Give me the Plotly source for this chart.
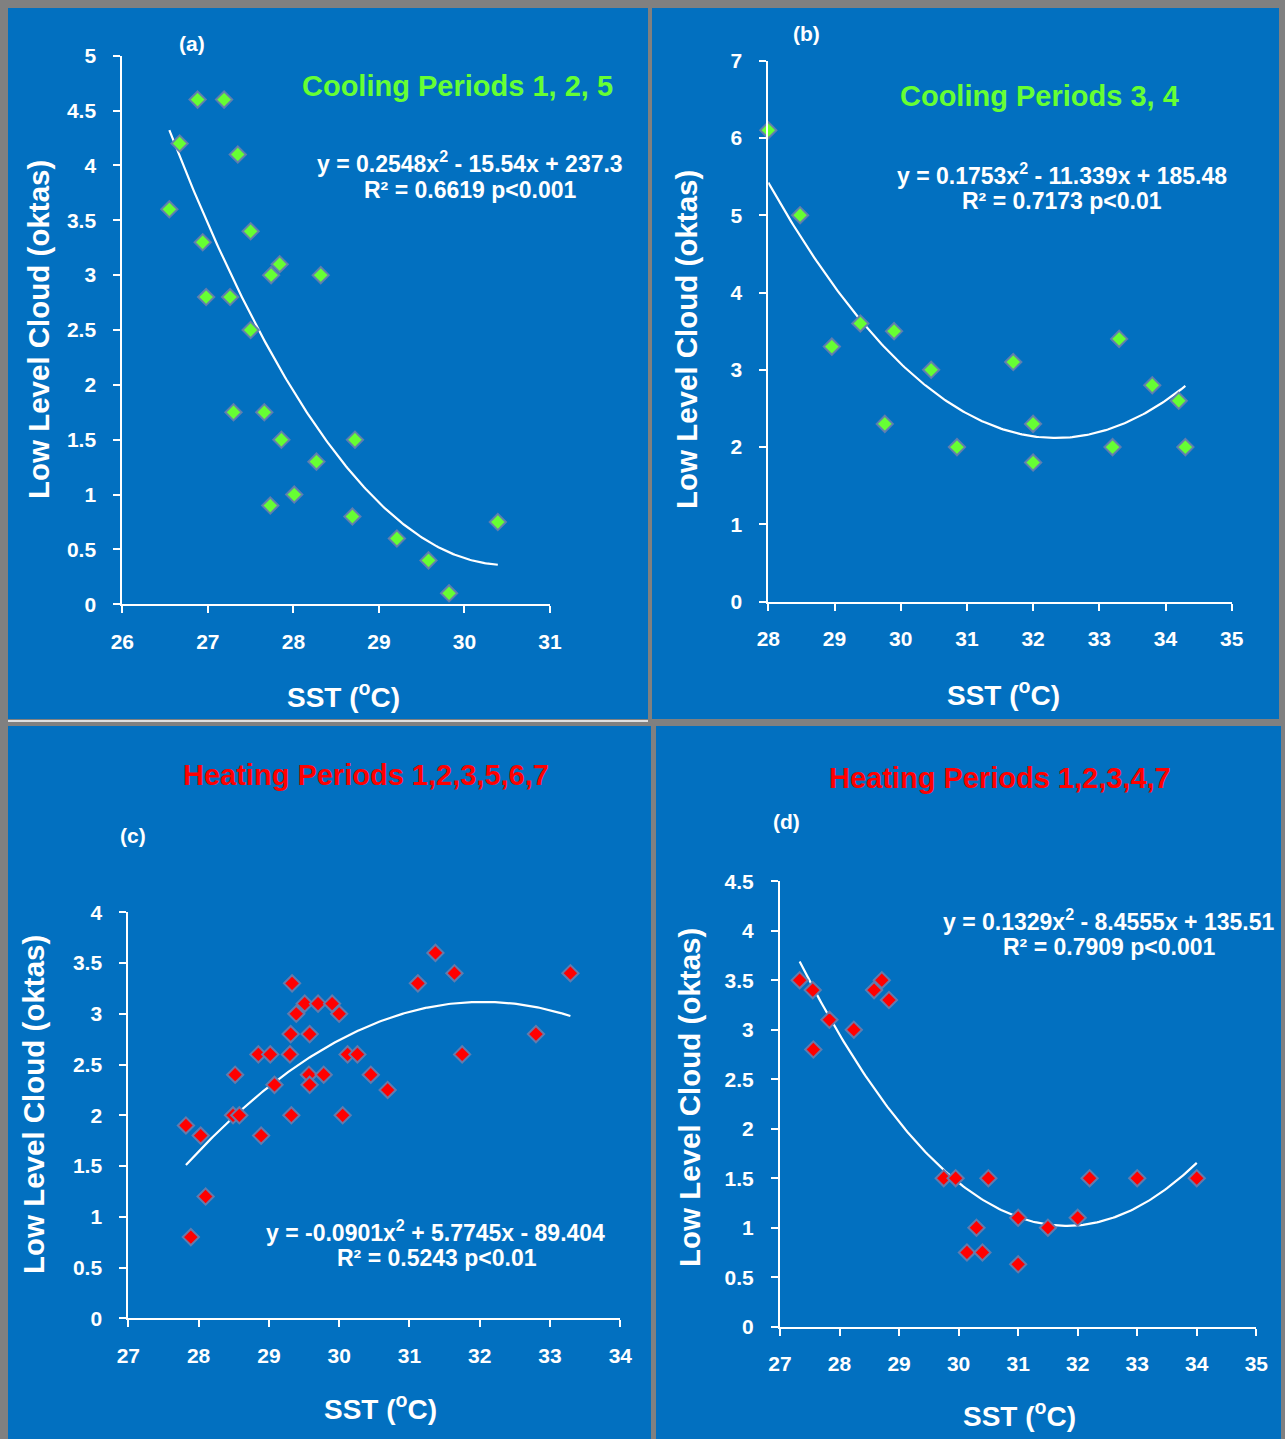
import numpy as np
import plotly.graph_objects as go

W, H = 1285, 1439

# ---------------- data ----------------
a_sst = [26.55, 26.67, 26.88, 27.19, 26.94, 26.98, 27.35, 27.26, 27.5, 27.5, 27.74, 27.84, 28.32,
         27.3, 27.66, 27.86, 27.73, 28.01, 28.27, 28.72, 28.69, 29.21, 29.58, 29.82, 30.39]
a_cloud = [3.6, 4.2, 4.6, 4.6, 3.3, 2.8, 4.1, 2.8, 3.4, 2.5, 3.0, 3.1, 3.0,
           1.75, 1.75, 1.5, 0.9, 1.0, 1.3, 1.5, 0.8, 0.6, 0.4, 0.1, 0.75]
a_coef = [0.2548, -15.54, 237.3]

b_sst = [28.0, 28.48, 28.96, 29.39, 29.76, 29.9, 30.46, 30.85, 31.7, 32.0, 32.0, 33.2, 33.3, 33.8, 34.2, 34.3]
b_cloud = [6.1, 5.0, 3.3, 3.6, 2.3, 3.5, 3.0, 2.0, 3.1, 2.3, 1.8, 2.0, 3.4, 2.8, 2.6, 2.0]
b_coef = [0.1753, -11.339, 185.48]

c_sst = [31.37, 31.64, 31.12, 33.29, 29.33, 29.51, 29.70, 29.9, 29.39, 30.0, 29.31, 29.58, 32.8,
         28.85, 29.02, 29.3, 30.12, 30.26, 31.75, 28.52, 29.57, 29.78, 30.45,
         29.08, 29.58, 30.69, 28.49, 28.58, 29.32, 30.05, 27.82, 28.03, 28.89, 28.1, 27.89]
c_cloud = [3.6, 3.4, 3.3, 3.4, 3.3, 3.1, 3.1, 3.1, 3.0, 3.0, 2.8, 2.8, 2.8,
           2.6, 2.6, 2.6, 2.6, 2.6, 2.6, 2.4, 2.4, 2.4, 2.4,
           2.3, 2.3, 2.25, 2.0, 2.0, 2.0, 2.0, 1.9, 1.8, 1.8, 1.2, 0.8]
c_coef = [-0.0901, 5.7745, -89.404]

d_sst = [27.33, 27.55, 28.71, 28.58, 28.83, 27.83, 28.24, 27.56,
         29.75, 29.95, 30.5, 32.2, 33.0, 34.0, 31.0, 32.0, 30.3, 31.5, 30.14, 30.4, 31.0]
d_cloud = [3.5, 3.4, 3.5, 3.4, 3.3, 3.1, 3.0, 2.8,
           1.5, 1.5, 1.5, 1.5, 1.5, 1.5, 1.1, 1.1, 1.0, 1.0, 0.75, 0.75, 0.63]
d_coef = [0.1329, -8.4555, 135.51]

# tick setup
a_xticks = [26, 27, 28, 29, 30, 31]
a_yticks = [0, 0.5, 1, 1.5, 2, 2.5, 3, 3.5, 4, 4.5, 5]
b_xticks = [28, 29, 30, 31, 32, 33, 34, 35]
b_yticks = [0, 1, 2, 3, 4, 5, 6, 7]
c_xticks = [27, 28, 29, 30, 31, 32, 33, 34]
c_yticks = [0, 0.5, 1, 1.5, 2, 2.5, 3, 3.5, 4]
d_xticks = [27, 28, 29, 30, 31, 32, 33, 34, 35]
d_yticks = [0, 0.5, 1, 1.5, 2, 2.5, 3, 3.5, 4, 4.5]

# ---------------- style ----------------
BLUE = "#0270C0"
GREY = "#808080"
GREEN = "#66FF33"
RED = "#FF0000"
OUTLINE = "rgba(100,125,175,0.95)"
FONT = "Liberation Sans, Arial, sans-serif"

def fx(px):
    return px / W

def fy(py):
    return 1 - py / H

panels = [
    dict(k="", sst=a_sst, cl=a_cloud, coef=a_coef, col=GREEN, xd=(122.3, 550), yd=(604.3, 55.7),
         xr=(26, 31), yr=(0, 5), xt=a_xticks, yt=a_yticks),
    dict(k="2", sst=b_sst, cl=b_cloud, coef=b_coef, col=GREEN, xd=(768.3, 1231.7), yd=(601.7, 60.6),
         xr=(28, 35), yr=(0, 7), xt=b_xticks, yt=b_yticks),
    dict(k="3", sst=c_sst, cl=c_cloud, coef=c_coef, col=RED, xd=(128.3, 620.3), yd=(1318.3, 912.3),
         xr=(27, 34), yr=(0, 4), xt=c_xticks, yt=c_yticks),
    dict(k="4", sst=d_sst, cl=d_cloud, coef=d_coef, col=RED, xd=(780, 1256.3), yd=(1326.7, 881.2),
         xr=(27, 35), yr=(0, 4.5), xt=d_xticks, yt=d_yticks),
]

fig = go.Figure()
layout_axes = {}
for p in panels:
    k = p["k"]
    xa = "x" + k
    ya = "y" + k
    xs = np.linspace(min(p["sst"]), max(p["sst"]), 200)
    ys = np.polyval(p["coef"], xs)
    fig.add_trace(go.Scatter(x=xs, y=ys, mode="lines", line=dict(color="white", width=2.2),
                             xaxis=xa, yaxis=ya, showlegend=False, hoverinfo="skip",
                             cliponaxis=False))
    fig.add_trace(go.Scatter(x=p["sst"], y=p["cl"], mode="markers",
                             marker=dict(symbol="diamond", size=12.5, color=p["col"],
                                         line=dict(color=OUTLINE, width=2)),
                             xaxis=xa, yaxis=ya, showlegend=False, cliponaxis=False))
    common = dict(showline=True, linecolor="white", linewidth=2, ticks="outside", ticklen=7,
                  tickcolor="white", tickwidth=2, showgrid=False, zeroline=False,
                  tickfont=dict(family=FONT, size=21, color="white", weight="bold"),
                  fixedrange=True, automargin=False)
    layout_axes["xaxis" + k] = dict(common, domain=[fx(p["xd"][0]), fx(p["xd"][1])],
                                    range=list(p["xr"]), tickvals=p["xt"], anchor=ya,
                                    ticklabelstandoff=10)
    layout_axes["yaxis" + k] = dict(common, domain=[fy(p["yd"][0]), fy(p["yd"][1])],
                                    range=list(p["yr"]), tickvals=p["yt"], anchor=xa,
                                    ticklabelstandoff=13)

fig.update_layout(**layout_axes)

# panel backgrounds
rects = [(8, 8, 648, 719), (652, 8, 1279, 719), (8, 726, 651, 1439), (656, 726, 1281, 1439)]
shapes = []
for (x0, y0, x1, y1) in rects:
    shapes.append(dict(type="rect", xref="paper", yref="paper", x0=fx(x0), x1=fx(x1),
                       y0=fy(y1), y1=fy(y0), fillcolor=BLUE, line=dict(width=0), layer="below"))
shapes.append(dict(type="line", xref="paper", yref="paper", x0=fx(8), x1=fx(648),
                   y0=fy(721), y1=fy(721), line=dict(color="white", width=1.5)))

ann = []

def txt(x, y, s, size, color="white", angle=0):
    ann.append(dict(x=fx(x), y=fy(y), xref="paper", yref="paper", text=s, showarrow=False,
                    xanchor="center", yanchor="middle", textangle=angle,
                    font=dict(family=FONT, size=size, color=color, weight="bold")))

YT = "Low Level Cloud (oktas)"
XT = "SST (<sup>o</sup>C)"
TS, ES, YS, XS, LS = 29, 23, 29.5, 28, 21
# panel a
txt(192, 44, "(a)", LS)
txt(457, 86, "Cooling Periods 1, 2, 5", TS, GREEN)
txt(470, 162, "y = 0.2548x<sup>2</sup> - 15.54x + 237.3", ES)
txt(470, 190, "R² = 0.6619 p<0.001", ES)
txt(38, 330, YT, YS, angle=-90)
txt(343, 695, XT, XS)
# panel b
txt(806, 33, "(b)", LS)
txt(1039, 96, "Cooling Periods 3, 4", TS, GREEN)
txt(1062, 174, "y = 0.1753x<sup>2</sup> - 11.339x + 185.48", ES)
txt(1062, 201, "R² = 0.7173 p<0.01", ES)
txt(686, 340, YT, YS, angle=-90)
txt(1003, 693, XT, XS)
# panel c
txt(133, 835, "(c)", LS)
txt(366, 775, "Heating Periods 1,2,3,5,6,7", TS, RED)
txt(435, 1231, "y = -0.0901x<sup>2</sup> + 5.7745x - 89.404", ES)
txt(437, 1258, "R² = 0.5243 p<0.01", ES)
txt(33, 1105, YT, YS, angle=-90)
txt(380, 1407, XT, XS)
# panel d
txt(786, 822, "(d)", LS)
txt(1000, 778, "Heating Periods 1,2,3,4,7", TS, RED)
txt(1108, 920, "y = 0.1329x<sup>2</sup> - 8.4555x + 135.51", ES)
txt(1109, 947, "R² = 0.7909 p<0.001", ES)
txt(689, 1098, YT, YS, angle=-90)
txt(1020, 1414, XT, XS)

fig.update_layout(width=W, height=H, margin=dict(l=0, r=0, t=0, b=0, autoexpand=False),
                  paper_bgcolor=GREY, plot_bgcolor="rgba(0,0,0,0)",
                  shapes=shapes, annotations=ann, showlegend=False)

# remove the default page margin so the figure sits at the window's top-left corner
fig.write_html("out.html",
               config={"displayModeBar": False, "staticPlot": False},
               post_script="document.body.style.margin='0';document.body.style.padding='0';"
                           "document.documentElement.style.overflow='hidden';")
